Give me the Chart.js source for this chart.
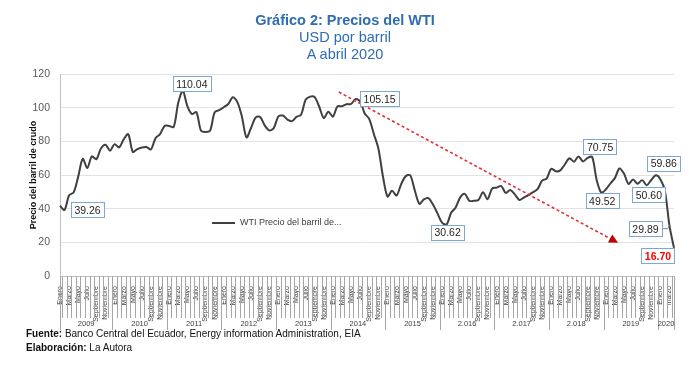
<!DOCTYPE html>
<html>
<head>
<meta charset="utf-8">
<script src="https://cdn.jsdelivr.net/npm/chart.js@4.4.1/dist/chart.umd.min.js"></script>
<style>
  body { margin: 0; background: #fff; font-family: "Liberation Sans", Arial, sans-serif; }
  #wrap { position: relative; width: 700px; height: 369px; }
  canvas { position: absolute; left: 0; top: 0; }
  .ttl { position: absolute; left: 0; width: 690px; text-align: center; color: #2E6DB4; font-size: 14.5px; line-height: 17px; }
  .foot { position: absolute; left: 26px; font-size: 10px; line-height: 13px; color: #111; }
</style>
</head>
<body>
<div id="wrap">
  <canvas id="wtiChart" width="700" height="369"></canvas>
  <div class="ttl" style="top:12px;font-weight:bold;">Gráfico 2: Precios del WTI</div>
  <div class="ttl" style="top:29px;">USD por barril</div>
  <div class="ttl" style="top:46px;">A abril 2020</div>
  <div class="foot" style="top:327px;"><b>Fuente:</b> Banco Central del Ecuador, Energy information Administration, EIA</div>
  <div class="foot" style="top:341px;"><b>Elaboración:</b> La Autora</div>
</div>
<script>
// Datos: precio mensual del WTI (USD por barril), enero 2009 - abril 2020
const yearLabels = ['2009', '2010', '2011', '2012', '2013', '2014', '2015', '2.016', '2.017', '2.018', '2019', '2020'];
const monthTicks = ['Enero', '', 'Marzo', '', 'Mayo', '', 'Julio', '', 'Septiembre', '', 'Noviembre', ''];
const ticks2020 = ['Enero', '', 'marzo', ''];
const wtiPrices = [
  41.68, 39.26, 47.94, 49.65, 59.03, 69.64, 64.15, 71.05, 69.41, 75.72, 77.99, 74.47,
  78.33, 76.39, 81.20, 84.29, 73.74, 75.34, 76.32, 76.60, 75.24, 81.89, 84.25, 89.15,
  89.17, 88.58, 102.86, 110.04, 100.90, 96.26, 97.30, 86.33, 85.52, 86.32, 97.16, 98.56,
  100.27, 102.20, 106.16, 103.32, 94.66, 82.30, 87.90, 94.13, 94.51, 89.49, 86.53, 87.86,
  94.76, 95.31, 92.94, 92.02, 94.51, 95.77, 104.67, 106.57, 106.29, 100.54, 93.86, 97.63,
  94.62, 100.82, 100.80, 102.07, 102.18, 105.15, 103.59, 96.54, 93.21, 84.40, 75.79, 59.29,
  47.22, 50.58, 47.82, 54.45, 59.27, 59.82, 50.90, 42.87, 45.48, 46.22, 42.44, 37.19,
  31.68, 30.62, 37.55, 40.75, 46.71, 48.76, 44.65, 44.72, 45.18, 49.78, 45.66, 51.97,
  52.50, 53.47, 49.33, 51.06, 48.48, 45.18, 46.63, 48.04, 49.82, 51.58, 56.64, 57.88,
  63.70, 62.23, 62.73, 66.25, 69.98, 67.87, 70.98, 68.06, 70.23, 70.75, 56.96, 49.52,
  51.38, 54.95, 58.15, 63.86, 60.83, 54.66, 57.35, 54.81, 56.95, 53.96, 57.03, 59.86,
  57.52, 50.60, 29.89, 16.70
];

// etiquetas de valor (indice del mes) y flecha de tendencia
const callouts = [
  { i: 1, dx: 23, dy: 0 },
  { i: 27, dx: 9, dy: -7 },
  { i: 65, dx: 24, dy: 0 },
  { i: 85, dx: 1, dy: 8 },
  { i: 117, dx: 8, dy: -10 },
  { i: 119, dx: 1, dy: 8 },
  { i: 131, dx: 8, dy: -12 },
  { i: 133, dx: -16, dy: 4 },
  { i: 134, dx: -24, dy: 3, leader: true },
  { i: 135, dx: -16, dy: 8, red: true }
];
const trendArrow = { from: { i: 61.3, v: 109.3 }, to: { i: 122.7, v: 19.7 } };

// categorias y etiquetas del eje
let categories = [];
let tickLabels = [];
let yearSizes = [];
yearLabels.forEach(function (yr, k) {
  const months = (k === yearLabels.length - 1) ? ticks2020 : monthTicks;
  yearSizes.push(months.length);
  for (var m = 0; m < months.length; m++) {
    categories.push(yr + '-' + (m + 1));
    tickLabels.push(months[m]);
  }
});

const decorPlugin = {
  id: 'decor',
  afterDraw(chart) {
    const ctx = chart.ctx, xs = chart.scales.x, ys = chart.scales.y, area = chart.chartArea;
    const x0 = xs.getPixelForValue(0);
    const step = xs.getPixelForValue(1) - x0;
    const px = function (i) { return x0 + i * step; };
    ctx.save();

    // lineas del eje de categorias
    ctx.strokeStyle = '#A6A6A6';
    ctx.lineWidth = 1;
    ctx.beginPath();
    for (var k = 1; k < categories.length; k++) {
      const bx = Math.round(px(k - 0.5)) + 0.5;
      ctx.moveTo(bx, area.bottom);
      ctx.lineTo(bx, area.bottom + 42);
    }
    ctx.stroke();
    let start = 0;
    let bounds = [area.left];
    yearSizes.forEach(function (n) {
      start += n;
      bounds.push(start < categories.length ? px(start - 0.5) : area.right);
    });
    ctx.beginPath();
    bounds.forEach(function (b) {
      const bx = Math.round(b) + 0.5;
      ctx.moveTo(bx, area.bottom);
      ctx.lineTo(bx, area.bottom + 54);
    });
    ctx.stroke();
    ctx.fillStyle = '#404040';
    ctx.font = '7.5px "Liberation Sans", Arial';
    ctx.textAlign = 'center';
    ctx.textBaseline = 'middle';
    yearLabels.forEach(function (yr, k) {
      ctx.fillText(yr, (bounds[k] + bounds[k + 1]) / 2, area.bottom + 48);
    });

    // leyenda
    ctx.strokeStyle = '#404040';
    ctx.lineWidth = 2;
    ctx.beginPath();
    ctx.moveTo(area.left + 152, 223);
    ctx.lineTo(area.left + 175, 223);
    ctx.stroke();
    ctx.font = '9px "Liberation Sans", Arial';
    ctx.textAlign = 'left';
    ctx.fillText('WTI Precio del barril de...', area.left + 180, 223);

    // flecha de tendencia
    const ax1 = px(trendArrow.from.i), ay1 = ys.getPixelForValue(trendArrow.from.v);
    const ax2 = px(trendArrow.to.i), ay2 = ys.getPixelForValue(trendArrow.to.v);
    const ang = Math.atan2(ay2 - ay1, ax2 - ax1);
    ctx.strokeStyle = '#E0303A';
    ctx.lineWidth = 1.6;
    ctx.setLineDash([3, 2.5]);
    ctx.beginPath();
    ctx.moveTo(ax1, ay1);
    ctx.lineTo(ax2 - 6 * Math.cos(ang), ay2 - 6 * Math.sin(ang));
    ctx.stroke();
    ctx.setLineDash([]);
    ctx.fillStyle = '#C00000';
    ctx.beginPath();
    ctx.moveTo(ax2, ay2);
    ctx.lineTo(ax2 - 9 * Math.cos(ang) + 4.5 * Math.sin(ang), ay2 - 9 * Math.sin(ang) - 4.5 * Math.cos(ang));
    ctx.lineTo(ax2 - 9 * Math.cos(ang) - 4.5 * Math.sin(ang), ay2 - 9 * Math.sin(ang) + 4.5 * Math.cos(ang));
    ctx.closePath();
    ctx.fill();

    // etiquetas de datos
    callouts.forEach(function (c) {
      const v = wtiPrices[c.i];
      const pxx = px(c.i), pyy = ys.getPixelForValue(v);
      const txt = v.toFixed(2);
      ctx.font = (c.red ? 'bold ' : '') + '10.5px "Liberation Sans", Arial';
      const w = ctx.measureText(txt).width + 7, h = 15;
      const cx = pxx + c.dx, cy = pyy + c.dy;
      if (c.leader) {
        ctx.strokeStyle = '#808080';
        ctx.lineWidth = 1;
        ctx.beginPath();
        ctx.moveTo(cx + w / 2, cy);
        ctx.lineTo(pxx - 2, cy);
        ctx.lineTo(pxx, pyy);
        ctx.stroke();
      }
      ctx.fillStyle = '#fff';
      ctx.fillRect(Math.round(cx - w / 2) + 0.5, Math.round(cy - h / 2) + 0.5, Math.round(w), h);
      ctx.strokeStyle = '#7FA7D6';
      ctx.lineWidth = 1;
      ctx.strokeRect(Math.round(cx - w / 2) + 0.5, Math.round(cy - h / 2) + 0.5, Math.round(w), h);
      ctx.fillStyle = c.red ? '#FF0000' : '#262626';
      ctx.textAlign = 'center';
      ctx.textBaseline = 'middle';
      ctx.fillText(txt, cx, cy + 1);
    });
    ctx.restore();
  }
};

const wtiChart = new Chart(document.getElementById('wtiChart'), {
  type: 'line',
  data: {
    labels: categories,
    datasets: [{
      label: 'WTI Precio del barril de crudo',
      data: wtiPrices,
      borderColor: '#404040',
      borderWidth: 2,
      pointRadius: 0,
      tension: 0.3,
      fill: false
    }]
  },
  options: {
    responsive: false,
    animation: false,
    devicePixelRatio: 1,
    layout: { padding: { left: 20, right: 26, top: 74, bottom: 37 } },
    plugins: {
      legend: { display: false },
      tooltip: { enabled: false }
    },
    scales: {
      x: {
        offset: false,
        grid: { display: false },
        border: { display: true, color: '#BFBFBF' },
        ticks: {
          autoSkip: false,
          maxRotation: 90,
          minRotation: 90,
          padding: 2,
          color: '#404040',
          font: { size: 7, family: '"Liberation Sans", Arial' },
          callback: function (val, idx) { return tickLabels[idx]; }
        },
        afterFit: function (scale) { scale.height = 56; }
      },
      y: {
        min: 0,
        max: 120,
        grid: { color: '#E3E3E3', drawTicks: false },
        border: { display: true, color: '#BFBFBF' },
        ticks: {
          stepSize: 20,
          padding: 10,
          color: '#595959',
          font: { size: 10.5, family: '"Liberation Sans", Arial' }
        },
        title: {
          display: true,
          text: 'Precio del barril de crudo',
          color: '#111',
          padding: { top: 8, bottom: 0 },
          font: { size: 9, weight: 'bold', family: '"Liberation Sans", Arial' }
        },
        afterFit: function (scale) { scale.width = 40; }
      }
    }
  },
  plugins: [decorPlugin]
});
</script>
</body>
</html>
